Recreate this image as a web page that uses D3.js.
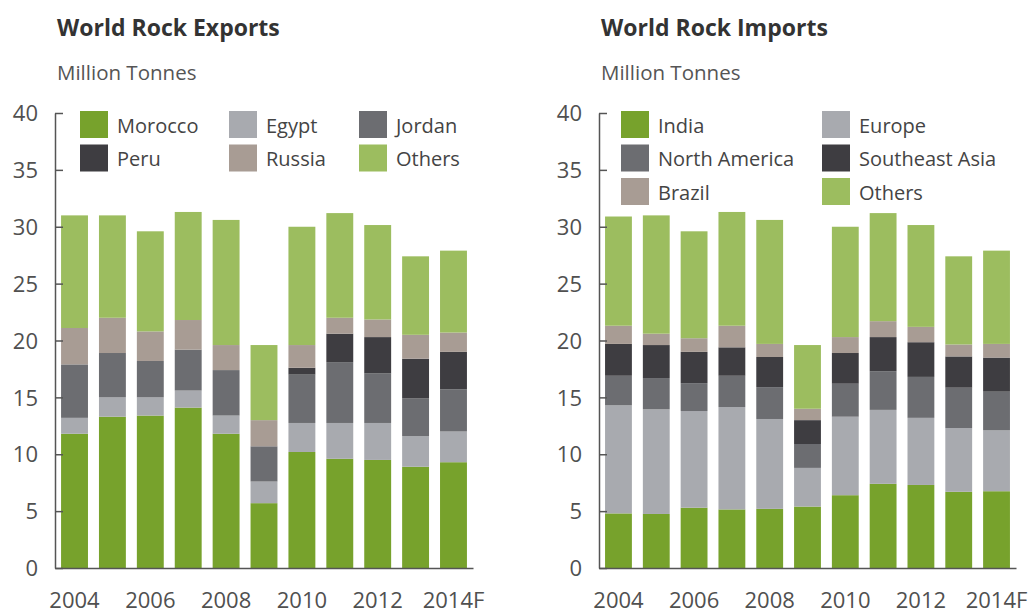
<!DOCTYPE html>
<html>
<head>
<meta charset="utf-8">
<script src="https://cdn.jsdelivr.net/npm/d3@7"></script>
<style>
  html, body { margin: 0; padding: 0; background: #ffffff; }
  svg { display: block; font-family: "Open Sans", sans-serif; }
</style>
</head>
<body>
<svg id="chart" width="1031" height="614"></svg>
<script>
// Years on the category axis; only every other one is labelled
const years = ["2004", "2005", "2006", "2007", "2008", "2009", "2010", "2011", "2012", "2013", "2014F"];
const yearLabels = ["2004", "2006", "2008", "2010", "2012", "2014F"];
const yTicks = [0, 5, 10, 15, 20, 25, 30, 35, 40];

// Exports by origin, million tonnes (stacked bottom to top)
const exportKeys = ["Morocco", "Egypt", "Jordan", "Peru", "Russia", "Others"];
const morocco = [11.8, 13.3, 13.4, 14.1, 11.8, 5.7, 10.2, 9.6, 9.5, 8.9, 9.3];
const egypt   = [1.4, 1.7, 1.6, 1.5, 1.6, 1.9, 2.55, 3.15, 3.25, 2.7, 2.7];
const jordan  = [4.7, 3.9, 3.2, 3.6, 4.0, 3.1, 4.25, 5.35, 4.35, 3.3, 3.7];
const peru    = [0, 0, 0, 0, 0, 0, 0.6, 2.5, 3.2, 3.5, 3.3];
const russia  = [3.2, 3.1, 2.6, 2.6, 2.2, 2.3, 2.0, 1.4, 1.55, 2.1, 1.7];
const exportOthers = [9.9, 9.0, 8.8, 9.5, 11.0, 6.6, 10.4, 9.2, 8.3, 6.9, 7.2];

// Imports by destination, million tonnes (stacked bottom to top)
const importKeys = ["India", "Europe", "North America", "Southeast Asia", "Brazil", "Others"];
const india         = [4.8, 4.75, 5.3, 5.15, 5.2, 5.4, 6.4, 7.4, 7.3, 6.7, 6.75];
const europe        = [9.5, 9.2, 8.5, 9.0, 7.9, 3.4, 6.9, 6.5, 5.9, 5.6, 5.35];
const northAmerica  = [2.6, 2.75, 2.45, 2.75, 2.8, 2.1, 2.9, 3.4, 3.6, 3.55, 3.4];
const southeastAsia = [2.8, 2.9, 2.75, 2.5, 2.65, 2.1, 2.7, 3.0, 3.05, 2.75, 3.0];
const brazil        = [1.6, 1.0, 1.2, 1.9, 1.15, 1.0, 1.4, 1.4, 1.35, 1.05, 1.2];
const importOthers  = [9.6, 10.4, 9.4, 10.0, 10.9, 5.6, 9.7, 9.5, 8.95, 7.75, 8.2];

// Shared palette, one colour per stack position
const palette = ["#77a22c", "#a8aaaf", "#6c6d71", "#3e3d41", "#a89c94", "#9cbd5f"];

function buildRows(keys, columns) {
  return years.map((yr, i) => {
    const row = { year: yr };
    keys.forEach((k, j) => { row[k] = columns[j][i]; });
    return row;
  });
}

const svg = d3.select("#chart");

function drawPanel(opts) {
  const { left, right, top, bottom, title, keys, columns, legendCols, legendX } = opts;
  const g = svg.append("g");

  const x = d3.scaleBand().domain(years).range([left, right])
    .paddingInner(0.29).paddingOuter(0.16);
  const y = d3.scaleLinear().domain([0, 40]).range([bottom, top]);
  const color = d3.scaleOrdinal().domain(keys).range(palette);

  const rows = buildRows(keys, columns);
  const series = d3.stack().keys(keys)(rows);

  // Titles
  g.append("text").attr("x", left + 2).attr("y", 36)
    .attr("font-size", 23).attr("font-weight", 700).attr("fill", "#333333")
    .text(title);
  g.append("text").attr("x", left + 2).attr("y", 80)
    .attr("font-size", 20.5).attr("fill", "#555555")
    .text("Million Tonnes");

  // Stacked bars
  g.append("g").selectAll("g").data(series).join("g")
    .attr("fill", d => color(d.key))
    .selectAll("rect").data(d => d).join("rect")
      .attr("x", d => x(d.data.year))
      .attr("width", x.bandwidth())
      .attr("y", d => y(d[1]))
      .attr("height", d => y(d[0]) - y(d[1]));

  // Y axis: ticks point inward
  const yAxis = g.append("g").attr("transform", `translate(${left},0)`)
    .call(d3.axisRight(y).tickValues(yTicks).tickSizeInner(8).tickSizeOuter(0).tickFormat(d3.format("d")));
  yAxis.select(".domain").attr("stroke", "#555555").attr("stroke-width", 1.5);
  yAxis.selectAll(".tick line").attr("stroke", "#555555").attr("stroke-width", 1.5);
  yAxis.selectAll(".tick text")
    .attr("x", -17).attr("text-anchor", "end").attr("dy", "0.35em")
    .attr("font-size", 22).attr("fill", "#505050").attr("font-family", "Open Sans, sans-serif");

  // X axis: baseline and alternate-year labels
  const xAxis = g.append("g").attr("transform", `translate(0,${bottom})`)
    .call(d3.axisBottom(x).tickValues(yearLabels).tickSize(0).tickPadding(24));
  xAxis.select(".domain").attr("stroke", "#555555").attr("stroke-width", 1.5);
  xAxis.selectAll(".tick text")
    .attr("font-size", 22).attr("fill", "#505050").attr("font-family", "Open Sans, sans-serif");

  // Legend, row-major
  const legend = g.append("g");
  keys.forEach((k, i) => {
    const col = i % legendCols, row = Math.floor(i / legendCols);
    const lx = legendX[col], ly = 111 + row * 33.5;
    legend.append("rect").attr("x", lx).attr("y", ly)
      .attr("width", 28).attr("height", 27).attr("fill", color(k));
    legend.append("text").attr("x", lx + 37).attr("y", ly + 21.5)
      .attr("font-size", 20).attr("fill", "#444444").text(k);
  });
}

drawPanel({
  left: 55, right: 473, top: 113, bottom: 568,
  title: "World Rock Exports",
  keys: exportKeys,
  columns: [morocco, egypt, jordan, peru, russia, exportOthers],
  legendCols: 3, legendX: [80, 229, 359]
});

drawPanel({
  left: 599, right: 1016, top: 113, bottom: 568,
  title: "World Rock Imports",
  keys: importKeys,
  columns: [india, europe, northAmerica, southeastAsia, brazil, importOthers],
  legendCols: 2, legendX: [621, 822]
});
</script>
</body>
</html>
